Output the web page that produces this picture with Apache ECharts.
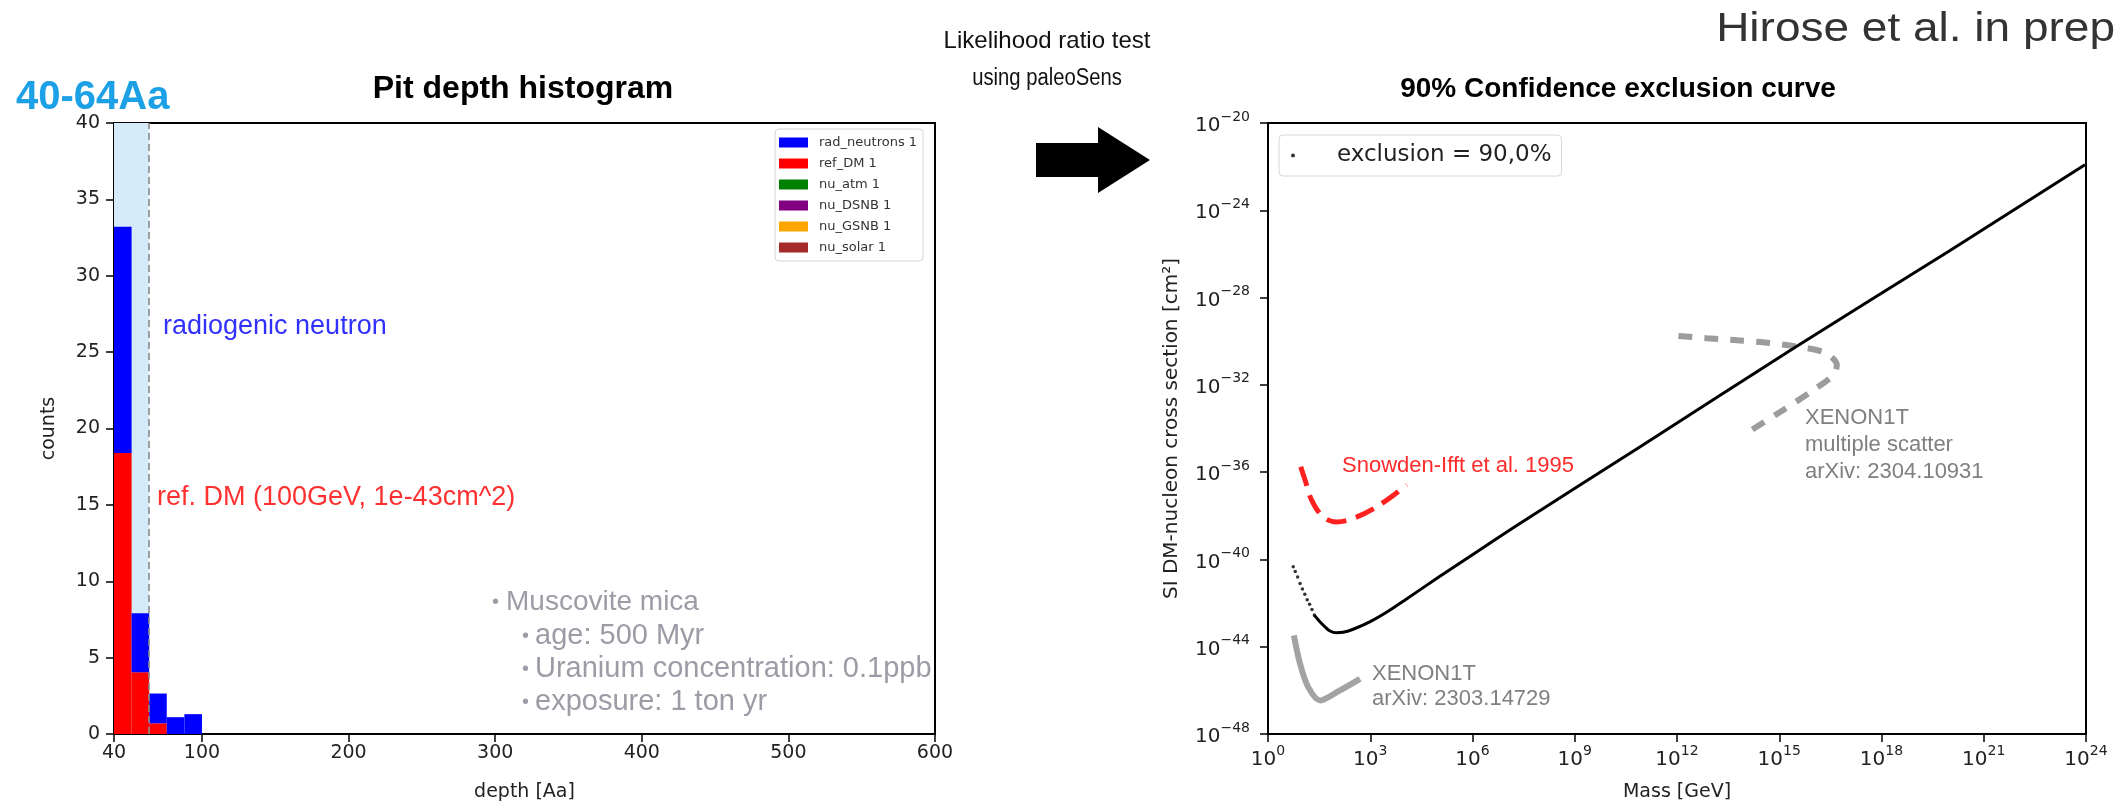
<!DOCTYPE html>
<html>
<head>
<meta charset="utf-8">
<script src="https://cdn.jsdelivr.net/npm/echarts@6/dist/echarts.min.js"></script>
<style>
  html, body { margin: 0; padding: 0; background: #ffffff; }
  #chart { width: 2126px; height: 809px; }
</style>
</head>
<body>
<div id="chart"></div>
<script>
// ---- Pit depth histogram: stacked counts in 12 Aa wide bins ----
const binEdges = [40, 52, 64, 76, 88, 100];
const refDMCounts = [18.4, 4.05, 0.7, 0, 0];
const radNeutronCounts = [14.8, 3.85, 1.95, 1.1, 1.3];
const depthTicks = [40, 100, 200, 300, 400, 500, 600];
const cutDepth = 64;
const histNames = ['rad_neutrons 1', 'ref_DM 1', 'nu_atm 1', 'nu_DSNB 1', 'nu_GSNB 1', 'nu_solar 1'];
const histColors = ['#0000ff', '#ff0000', '#008000', '#800080', '#ffa500', '#a52a2a'];

// ---- Exclusion curves: log10(mass / GeV) vs log10(sigma / cm^2) ----
const exclDotsLogM = [0.74, 0.80, 0.87, 0.94, 1.01, 1.08, 1.15, 1.22, 1.29, 1.36];
const exclDotsLogS = [-40.34, -40.55, -40.8, -41.1, -41.35, -41.6, -41.85, -42.05, -42.3, -42.55];
const exclLogM = [1.36, 1.53, 1.68, 1.82, 2.0, 2.2, 2.5, 3.0, 3.5, 4.0, 5.0, 6.0, 7.39, 10.92, 15.41, 20.0, 23.97];
const exclLogS = [-42.55, -42.87, -43.1, -43.28, -43.36, -43.34, -43.2, -42.85, -42.4, -41.88, -40.82, -39.78, -38.35, -34.84, -30.33, -25.85, -21.91];

const snowdenLogM = [0.96, 1.09, 1.28, 1.62, 2.01, 2.50, 3.19, 4.07];
const snowdenLogS = [-35.75, -36.37, -37.28, -38.05, -38.28, -38.12, -37.59, -36.59];

const xenonLogM = [0.76, 0.94, 1.18, 1.53, 2.11, 2.70];
const xenonLogS = [-43.48, -44.78, -45.85, -46.46, -46.0, -45.47];

const xenonMSLogM = [12.04, 12.87, 13.85, 14.7, 15.41, 16.34, 16.69, 16.59, 16.0, 15.12, 13.95];
const xenonMSLogS = [-29.76, -29.86, -29.97, -30.08, -30.22, -30.52, -31.09, -31.55, -32.24, -33.15, -34.3];

const massExpRange = [0, 24];
const sigmaExpRange = [-48, -20];

// ---- helpers ----
const MPL = 'DejaVu Sans';
const SLIDE = '"Liberation Sans", Arial, sans-serif';
const zip = (a, b) => a.map((v, i) => [v, b[i]]);

function histRects(bottoms, heights) {
  return heights.map((h, i) => [binEdges[i], binEdges[i + 1], bottoms[i], bottoms[i] + h]);
}
function renderBin(color) {
  return function (params, api) {
    const p0 = api.coord([api.value(0), api.value(3)]);
    const p1 = api.coord([api.value(1), api.value(2)]);
    return {
      type: 'rect',
      shape: { x: p0[0], y: p0[1], width: p1[0] - p0[0], height: p1[1] - p0[1] },
      style: { fill: color }
    };
  };
}
function powLabel(v) {
  const e = Math.round(v);
  return '{b|10}{s|' + (e < 0 ? '\u2212' + (-e) : e) + '}';
}
const powRich = {
  b: { fontFamily: MPL, fontSize: 20, color: '#222', verticalAlign: 'bottom', lineHeight: 26 },
  s: { fontFamily: MPL, fontSize: 14, color: '#222', verticalAlign: 'top', lineHeight: 12 }
};
const axisLine = { show: true, lineStyle: { color: '#000', width: 2 } };
const axisTick = { show: true, length: 8, lineStyle: { color: '#000', width: 1.5 } };

function text(str, x, y, size, color, opts) {
  opts = opts || {};
  return {
    type: 'text', x: x, y: y, silent: true,
    scaleX: opts.scaleX || 1,
    style: {
      text: str, fill: color,
      font: (opts.weight || 'normal') + ' ' + size + 'px ' + (opts.family || SLIDE),
      align: opts.align || 'left', verticalAlign: 'middle'
    }
  };
}

const chart = echarts.init(document.getElementById('chart'), null, { renderer: 'canvas' });

const option = {
  animation: false,
  backgroundColor: '#ffffff',
  grid: [
    { left: 114, top: 123, width: 821, height: 611, show: true, borderColor: '#000', borderWidth: 2, backgroundColor: 'transparent' },
    { left: 1268, top: 123, width: 818, height: 611, show: true, borderColor: '#000', borderWidth: 2, backgroundColor: 'transparent' }
  ],
  xAxis: [
    {
      type: 'value', gridIndex: 0, min: 40, max: 600,
      axisLine: axisLine, axisTick: Object.assign({ customValues: depthTicks }, axisTick),
      axisLabel: { customValues: depthTicks, fontFamily: MPL, fontSize: 19, color: '#222', margin: 10 },
      splitLine: { show: false },
      name: 'depth [Aa]', nameLocation: 'middle', nameGap: 49,
      nameTextStyle: { fontFamily: MPL, fontSize: 19, color: '#222' }
    },
    {
      type: 'value', gridIndex: 1, min: massExpRange[0], max: massExpRange[1], interval: 3,
      axisLine: axisLine, axisTick: axisTick,
      axisLabel: { formatter: powLabel, rich: powRich, margin: 10 },
      splitLine: { show: false },
      name: 'Mass [GeV]', nameLocation: 'middle', nameGap: 49,
      nameTextStyle: { fontFamily: MPL, fontSize: 19, color: '#222' }
    }
  ],
  yAxis: [
    {
      type: 'value', gridIndex: 0, min: 0, max: 40, interval: 5,
      axisLine: axisLine, axisTick: axisTick,
      axisLabel: { fontFamily: MPL, fontSize: 19, color: '#222', margin: 14 },
      splitLine: { show: false },
      name: 'counts', nameLocation: 'middle', nameGap: 55,
      nameTextStyle: { fontFamily: MPL, fontSize: 19, color: '#222' }
    },
    {
      type: 'value', gridIndex: 1, min: sigmaExpRange[0], max: sigmaExpRange[1], interval: 4,
      axisLine: axisLine, axisTick: axisTick,
      axisLabel: { formatter: powLabel, rich: powRich, margin: 18 },
      splitLine: { show: false },
      name: 'SI DM-nucleon cross section [cm\u00b2]', nameLocation: 'middle', nameGap: 86,
      nameTextStyle: { fontFamily: MPL, fontSize: 20, color: '#222' }
    }
  ],
  legend: [
    {
      orient: 'vertical', left: 775, top: 129, padding: [7, 6, 7, 4],
      itemWidth: 29, itemHeight: 10, itemGap: 8, selectedMode: false,
      backgroundColor: '#ffffff', borderColor: '#d4d4d4', borderWidth: 1, borderRadius: 4,
      textStyle: { fontFamily: MPL, fontSize: 13, color: '#333', padding: [0, 0, 0, 6] },
      data: histNames.map((n, i) => ({ name: n, icon: 'rect', itemStyle: { color: histColors[i] } }))
    },
    {
      left: 1279, top: 135, padding: [9, 10, 9, 12],
      itemWidth: 38, itemHeight: 4, selectedMode: false,
      backgroundColor: '#ffffff', borderColor: '#d8d8d8', borderWidth: 1, borderRadius: 4,
      textStyle: { fontFamily: MPL, fontSize: 23, color: '#222', padding: [0, 0, 0, 20] },
      data: [{ name: 'exclusion = 90,0%', icon: 'circle' }]
    }
  ],
  series: [
    // shaded depth window and cut line
    {
      type: 'line', xAxisIndex: 0, yAxisIndex: 0, data: [], silent: true, z: 1,
      markArea: {
        silent: true,
        itemStyle: { color: '#d5ebfa' },
        data: [[{ coord: [binEdges[0], 0] }, { coord: [cutDepth, 40] }]]
      },
      markLine: {
        silent: true, symbol: 'none', label: { show: false },
        lineStyle: { type: [7, 4], color: '#8a8a8a', width: 1.6 },
        data: [{ xAxis: cutDepth }]
      }
    },
    {
      name: 'ref_DM 1', type: 'custom', xAxisIndex: 0, yAxisIndex: 0, z: 3,
      itemStyle: { color: histColors[1] },
      renderItem: renderBin(histColors[1]),
      encode: { x: [0, 1], y: [2, 3] },
      data: histRects([0, 0, 0, 0, 0], refDMCounts)
    },
    {
      name: 'rad_neutrons 1', type: 'custom', xAxisIndex: 0, yAxisIndex: 0, z: 3,
      itemStyle: { color: histColors[0] },
      renderItem: renderBin(histColors[0]),
      encode: { x: [0, 1], y: [2, 3] },
      data: histRects(refDMCounts, radNeutronCounts)
    },
    ...histNames.slice(2).map((n, i) => ({
      name: n, type: 'custom', xAxisIndex: 0, yAxisIndex: 0,
      itemStyle: { color: histColors[i + 2] },
      renderItem: renderBin(histColors[i + 2]), data: []
    })),
    // exclusion curve
    {
      name: 'exclusion = 90,0%', type: 'scatter', xAxisIndex: 1, yAxisIndex: 1,
      symbol: 'circle', symbolSize: 3.5, itemStyle: { color: '#000' }, z: 5,
      data: zip(exclDotsLogM, exclDotsLogS)
    },
    {
      name: 'exclusion line', type: 'line', xAxisIndex: 1, yAxisIndex: 1,
      smooth: 0.4, showSymbol: false, symbol: 'none', z: 5,
      lineStyle: { color: '#000', width: 3 },
      data: zip(exclLogM, exclLogS)
    },
    {
      name: 'Snowden-Ifft 1995', type: 'line', xAxisIndex: 1, yAxisIndex: 1,
      smooth: 0.35, symbol: 'none', z: 4,
      lineStyle: { color: '#ff2020', width: 5, type: [20, 10], cap: 'butt' },
      data: zip(snowdenLogM, snowdenLogS)
    },
    {
      name: 'XENON1T', type: 'line', xAxisIndex: 1, yAxisIndex: 1,
      smooth: 0.3, symbol: 'none', z: 4,
      lineStyle: { color: '#a3a3a3', width: 6 },
      data: zip(xenonLogM, xenonLogS)
    },
    {
      name: 'XENON1T multiple scatter', type: 'line', xAxisIndex: 1, yAxisIndex: 1,
      smooth: 0.3, symbol: 'none', z: 4,
      lineStyle: { color: '#9c9c9c', width: 6, type: [14, 12], cap: 'butt' },
      data: zip(xenonMSLogM, xenonMSLogS)
    }
  ],
  graphic: [
    text('40-64Aa', 16, 98, 40, '#1da1e6', { weight: 'bold' }),
    text('Pit depth histogram', 523, 89, 32, '#000', { weight: 'bold', align: 'center' }),
    text('90% Confidence exclusion curve', 1618, 89, 28, '#000', { weight: 'bold', align: 'center' }),
    text('Likelihood ratio test', 1047, 41, 24, '#111', { align: 'center' }),
    text('using paleoSens', 1047, 79, 23, '#111', { align: 'center', scaleX: 0.88 }),
    text('Hirose et al. in prep', 2115, 30, 40, '#333', { align: 'right', scaleX: 1.15 }),
    text('radiogenic neutron', 163, 327, 27, '#3030ff'),
    text('ref. DM (100GeV, 1e-43cm^2)', 157, 498, 27, '#ff3030'),
    text('\u2022', 492, 602, 20, '#9c9ca6'),
    text('Muscovite mica', 506, 602, 28, '#9c9ca6'),
    text('\u2022', 522, 636, 20, '#9c9ca6'),
    text('age: 500 Myr', 535, 636, 29, '#9c9ca6'),
    text('\u2022', 522, 669, 20, '#9c9ca6'),
    text('Uranium concentration: 0.1ppb', 535, 669, 29, '#9c9ca6'),
    text('\u2022', 522, 702, 20, '#9c9ca6'),
    text('exposure: 1 ton yr', 535, 702, 29, '#9c9ca6'),
    text('Snowden-Ifft et al. 1995', 1342, 466, 22, '#ff2a2a'),
    text('XENON1T', 1372, 674, 22, '#808080'),
    text('arXiv: 2303.14729', 1372, 699, 22, '#808080'),
    text('XENON1T', 1805, 418, 22, '#808080'),
    text('multiple scatter', 1805, 445, 22, '#808080'),
    text('arXiv: 2304.10931', 1805, 472, 22, '#808080'),
    {
      type: 'polygon', silent: true,
      shape: { points: [[1036, 143], [1098, 143], [1098, 127], [1150, 160], [1098, 193], [1098, 177], [1036, 177]] },
      style: { fill: '#000' }
    }
  ]
};

chart.setOption(option);
</script>
</body>
</html>
